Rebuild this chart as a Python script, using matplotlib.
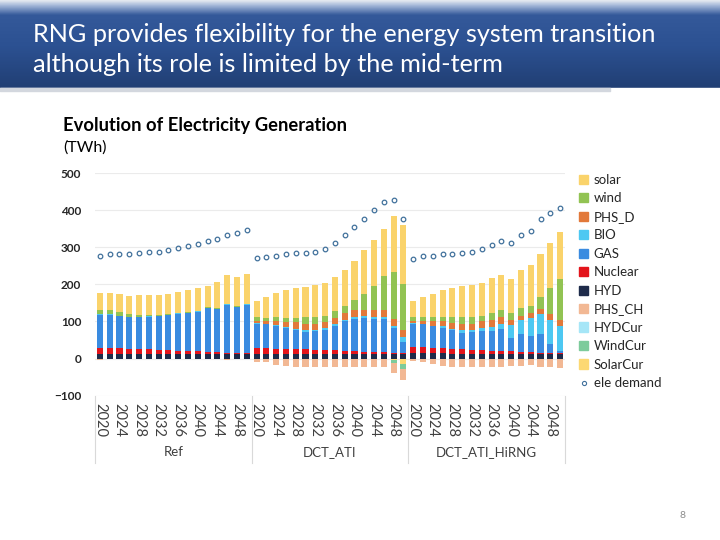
import numpy as np
import matplotlib
matplotlib.use('Agg')
import matplotlib.pyplot as plt
from matplotlib.patches import Patch
from matplotlib.lines import Line2D
from matplotlib.colors import LinearSegmentedColormap

plt.rcParams['font.family'] = ['Lato', 'DejaVu Sans']

# ---- data (TWh), 16 years per scenario: 2020..2050 step 2 ----
years = list(range(2020, 2051, 2))
scenarios = ['Ref', 'DCT_ATI', 'DCT_ATI_HiRNG']

hyd = [12]*16 + [13]*16 + [14, 14, 14, 14] + [13]*12
nuclear = [17, 17, 16, 13, 13, 13, 12, 10, 9, 8, 8, 7, 5, 4, 3, 3,
           16, 15, 14, 13, 12, 12, 11, 10, 9, 8, 7, 6, 5, 4, 2, 1,
           17, 16, 15, 14, 13, 12, 11, 10, 7, 7, 7, 6, 4, 3, 1, 1]
gas = [89, 89, 86, 86, 87, 88, 90, 95, 100, 103, 106, 116, 116, 129, 124, 130,
       65, 64, 62, 56, 51, 46, 50, 54, 65, 79, 87, 90, 88, 89, 68, 32,
       63, 62, 58, 55, 50, 45, 48, 52, 54, 60, 35, 48, 45, 51, 24, 6]
bio = [1]*16 + \
      [1, 1, 1, 4, 4, 5, 3, 5, 5, 5, 5, 5, 6, 6, 6, 12] + \
      [1, 2, 2, 4, 4, 6, 5, 7, 12, 14, 36, 36, 48, 52, 65, 69]
phs_d = [0]*16 + \
        [6, 8, 11, 12, 18, 18, 17, 16, 17, 18, 20, 18, 20, 20, 18, 19] + \
        [6, 6, 11, 13, 15, 18, 17, 18, 17, 18, 13, 13, 13, 15, 16, 16]
wind = [13, 11, 10, 7, 5, 3, 3, 3, 2, 2, 2, 2, 2, 2, 2, 2,
        11, 9, 11, 11, 11, 17, 17, 18, 19, 18, 27, 43, 63, 90, 126, 125,
        11, 12, 12, 12, 17, 18, 18, 16, 20, 20, 19, 20, 18, 31, 71, 109]
solar = [45, 47, 48, 49, 53, 54, 53, 54, 55, 59, 61, 57, 69, 76, 78, 79,
         42, 56, 66, 77, 81, 83, 86, 88, 91, 99, 104, 117, 125, 128, 151, 157,
         42, 54, 63, 73, 78, 83, 87, 88, 95, 94, 92, 102, 110, 116, 122, 126]

# curtailment / pumping (negative)
phs_ch = [-3, -2, -1, -1, -1, -1, -1, -1, -1, -1, -1, -1, -1, -3, -1, -1,
          -8, -10, -16, -19, -23, -23, -23, -23, -23, -23, -23, -23, -23, -23, -27, -30,
          -7, -10, -15, -19, -23, -23, -23, -23, -22, -22, -20, -20, -18, -22, -22, -25]
hyd_cur = [0]*48
wind_cur = [0]*16 + [0]*14 + [-7, -14] + [0]*16
solar_cur = [0]*16 + [0]*14 + [-4, -14] + [0]*16

ele_demand = [277, 281, 281, 281, 284, 286, 287, 293, 298, 303, 310, 316, 323, 332, 338, 347,
              270, 275, 277, 282, 284, 284, 288, 296, 312, 334, 355, 377, 399, 423, 426, 375,
              269, 276, 277, 281, 283, 284, 288, 294, 305, 318, 311, 333, 345, 375, 393, 405]

pos_series = [('HYD', hyd, '#1E2B4A'), ('Nuclear', nuclear, '#E3141B'),
              ('GAS', gas, '#3A8BE0'), ('BIO', bio, '#4DC8F2'),
              ('PHS_D', phs_d, '#E2793A'), ('wind', wind, '#92C353'),
              ('solar', solar, '#FAD36B')]
neg_series = [('SolarCur', solar_cur, '#FCD872'), ('WindCur', wind_cur, '#7DCB9B'),
              ('HYDCur', hyd_cur, '#A6E6F7'), ('PHS_CH', phs_ch, '#F2B894')]
colors = {n: c for n, _, c in pos_series + neg_series}

fig = plt.figure(figsize=(7.2, 5.4), dpi=100)

# ---- header banner ----
bn = fig.add_axes([0, 1 - 92/540, 1, 92/540])
grad = LinearSegmentedColormap.from_list('bn', [(0, '#E6EAF1'), (0.06, '#9FB3D6'),
                                                (0.16, '#34599A'), (0.5, '#2C5192'),
                                                (0.95, '#213F74'), (1.0, '#213F74')])
bn.imshow(np.linspace(0, 1, 200).reshape(-1, 1), aspect='auto', cmap=grad,
          extent=[0, 720, 92, 0])
bn.fill_between([0, 720], 88, 92, color='white')
bn.fill_between([0, 610], 88, 91, color='#D3D7DE')
bn.set_xlim(0, 720)
bn.set_ylim(92, 0)
bn.axis('off')
fig.text(33/720, 1 - 35/540, 'RNG provides flexibility for the energy system transition',
         color='white', fontsize=18.2, va='center', ha='left')
fig.text(33/720, 1 - 64/540, 'although its role is limited by the mid-term',
         color='white', fontsize=18.2, va='center', ha='left')

# ---- chart ----
ax = fig.add_axes([95/720, 1 - 395.7/540, 470/720, 222.7/540])
x = np.arange(48)
bw = 0.62
bottom = np.zeros(48)
for name, vals, col in pos_series:
    v = np.array(vals, dtype=float)
    ax.bar(x, v, bw, bottom=bottom, color=col, linewidth=0, zorder=2)
    bottom += v
nbottom = np.zeros(48)
for name, vals, col in neg_series:
    v = np.array(vals, dtype=float)
    ax.bar(x, v, bw, bottom=nbottom, color=col, linewidth=0, zorder=2)
    nbottom += v
ax.plot(x, ele_demand, 'o', ms=3.3, mfc='none', mec='#41719C', mew=0.9, zorder=3)

ax.set_xlim(-0.5, 47.5)
ax.set_ylim(-100, 500)
ax.set_yticks(range(-100, 501, 100))
ax.grid(axis='y', color='#EBEBEB', lw=0.8, zorder=0)
for s in ax.spines.values():
    s.set_visible(False)
ax.tick_params(axis='y', length=0, pad=10, labelsize=8.5, labelcolor='#262626')
for t in ax.get_yticklabels():
    t.set_fontweight('bold')

tick_pos = [g*16 + i for g in range(3) for i in range(0, 16, 2)]
ax.set_xticks(tick_pos)
ax.set_xticklabels([str(years[p % 16]) for p in tick_pos], rotation=-90,
                   fontsize=10.5, color='#404040')
ax.tick_params(axis='x', length=0, pad=5)

tr = ax.get_xaxis_transform()
for xs in [-0.5, 15.5, 31.5, 47.5]:
    ax.plot([xs, xs], [0, -0.3], transform=tr, color='#D9D9D9', lw=0.8, clip_on=False)
for g, name in enumerate(scenarios):
    ax.text(g*16 + 7.5, -0.255, name, transform=tr, ha='center', va='center',
            fontsize=9.5, color='#404040')

fig.text(63/720, 1 - 125/540, 'Evolution of Electricity Generation', fontsize=13.2,
         fontweight='bold', color='black', va='center')
fig.text(63/720, 1 - 148/540, '(TWh)', fontsize=11.5, color='black', va='center')

legend_order = ['solar', 'wind', 'PHS_D', 'BIO', 'GAS', 'Nuclear', 'HYD',
                'PHS_CH', 'HYDCur', 'WindCur', 'SolarCur']
handles = [Patch(color=colors[n]) for n in legend_order]
handles.append(Line2D([], [], marker='o', ls='none', ms=3, mfc='none',
                      mec='#41719C', mew=0.8))
labels = legend_order + ['ele demand']
fig.legend(handles, labels, loc='upper left', bbox_to_anchor=(579/720, 1 - 174/540),
           frameon=False, fontsize=9.5, handlelength=0.7, handleheight=0.7,
           handletextpad=0.4, labelspacing=0.49, borderaxespad=0, borderpad=0,
           labelcolor='#262626')

fig.text(683/720, 1 - 515/540, '8', fontsize=7.5, color='#8C8C8C', ha='center', va='center')

fig.savefig('out.png', dpi=100)
